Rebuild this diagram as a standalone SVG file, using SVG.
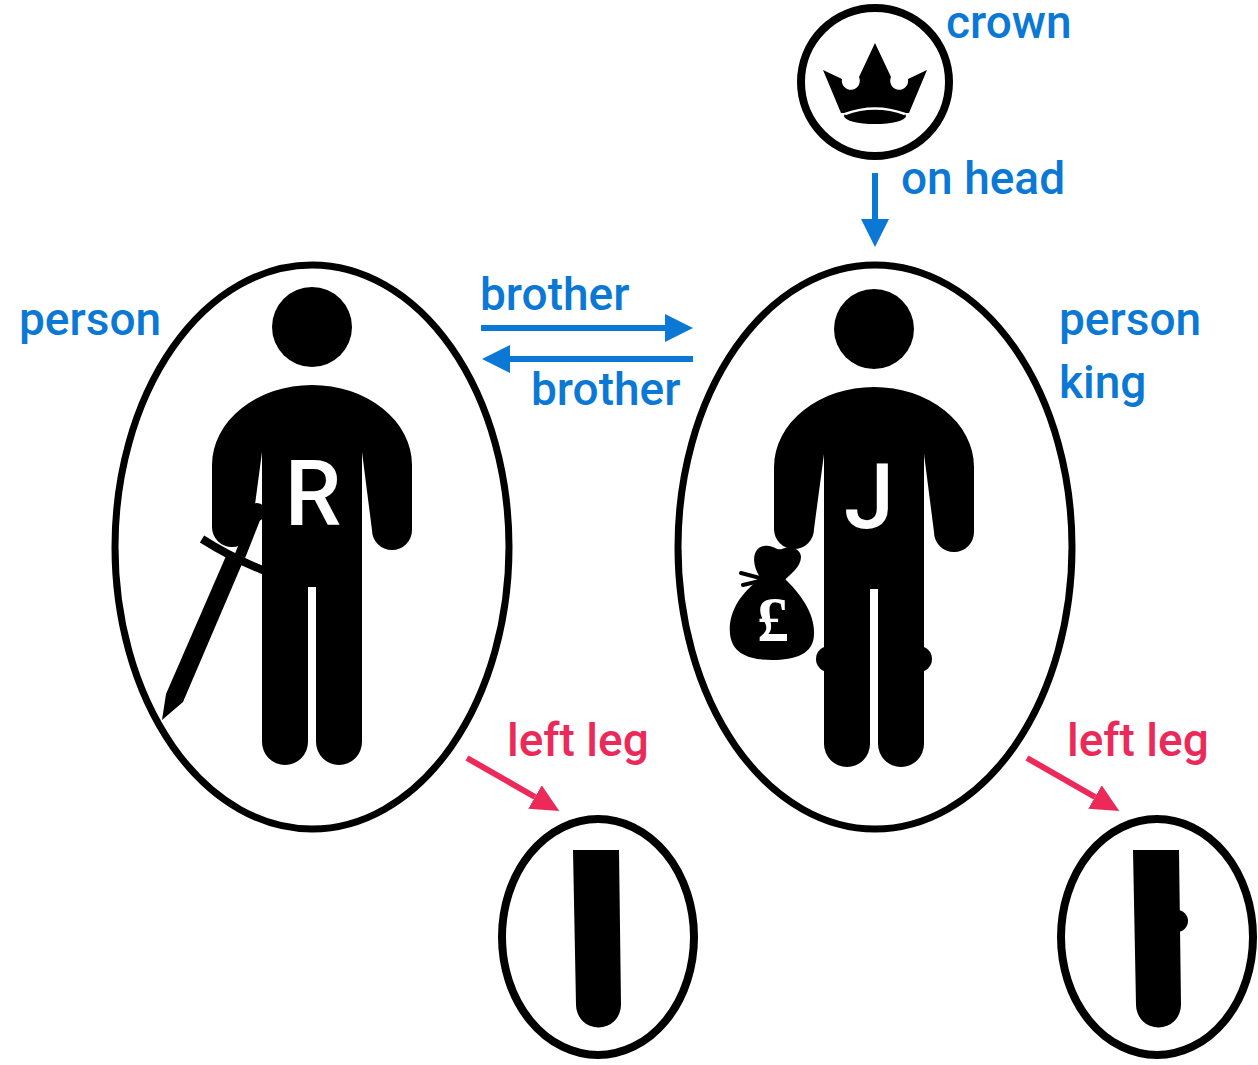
<svg xmlns="http://www.w3.org/2000/svg" width="1258" height="1065" viewBox="0 0 1258 1065">
  <style>
    .frame { fill: none; stroke: #000; stroke-width: 7; }
    .leg-frame { fill: none; stroke: #000; stroke-width: 8; }
    .ink { fill: #000; }
    .lbl { font-family: Roboto, "Liberation Sans", sans-serif; font-weight: 500; font-size: 46px; }
    .blue { fill: #0a78d4; }
    .red { fill: #ec2a5a; }
    .initial { font-family: Roboto, "Liberation Sans", sans-serif; font-weight: 500; font-size: 90px; fill: #fff; text-anchor: middle; }
    .edge-blue { stroke: #0a78d4; stroke-width: 6; fill: none; }
    .edge-red { stroke: #ec2a5a; stroke-width: 6; fill: none; }
  </style>
  <defs>
    <marker id="head-blue" markerUnits="userSpaceOnUse" markerWidth="28" markerHeight="28" refX="0" refY="14" orient="auto">
      <path d="M0,0 L28,14 L0,28 Z" fill="#0a78d4"/>
    </marker>
    <marker id="head-red" markerUnits="userSpaceOnUse" markerWidth="28" markerHeight="27" refX="0" refY="13.5" orient="auto">
      <path d="M0,0 L28,13.5 L0,27 Z" fill="#ec2a5a"/>
    </marker>
    <!-- pictogram of a standing person, centred on x = 0 -->
    <g id="figure">
      <circle cx="0" cy="327" r="40"/>
      <path d="M -50 452 L -60 527 A 20 20 0 0 1 -100 527 L -100 465 A 100 80 0 0 1 100 465 L 100 530 A 20 20 0 0 1 60 530 L 50 452 L 50 742 A 23 23 0 0 1 4 742 L 4 587 L -4 587 L -4 742 A 23 23 0 0 1 -50 742 Z"/>
    </g>
    <path id="leg" d="M 573 850 L 619 850 L 621 1005 A 22.5 22.5 0 0 1 576 1005 Z"/>
  </defs>

  <!-- crown -->
  <g id="node-crown">
    <circle class="frame" cx="875" cy="82" r="74" style="stroke-width:8"/>
    <path class="ink" d="M 823 70 L 842 79 A 9 9 0 1 0 859 77 L 875 43 L 891 77 A 9 9 0 1 0 908 79 L 927 70 L 909 113 L 841 113 Z"/>
    <ellipse class="ink" cx="875" cy="116" rx="31" ry="8"/>
    <path d="M 845 114 Q 875 103 905 114" stroke="#fff" stroke-width="2.5" fill="none"/>
    <text class="lbl blue" x="946" y="38">crown</text>
  </g>

  <!-- Richard: person with sword -->
  <g id="node-richard">
    <ellipse class="frame" cx="312" cy="547" rx="197" ry="282"/>
    <use href="#figure" transform="translate(312,0)"/>
    <text class="initial" x="313" y="525">R</text>
    <!-- sword -->
    <polygon class="ink" points="225.8,556.4 242.2,563.6 183,702 162,720 166,694"/>
    <path d="M 202 539 Q 232 558 265 571" stroke="#000" stroke-width="8" fill="none"/>
    <path d="M 240 556 L 257 513" stroke="#000" stroke-width="11" fill="none"/>
    <circle cx="257" cy="512" r="9"/>
    <text class="lbl blue" x="19" y="335">person</text>
  </g>

  <!-- John: person with money bag -->
  <g id="node-john">
    <ellipse class="frame" cx="875" cy="547" rx="197" ry="282"/>
    <use href="#figure" transform="translate(874,2)"/>
    <circle cx="829" cy="659" r="13"/>
    <circle cx="919" cy="659" r="13"/>
    <text class="initial" x="869" y="528">J</text>
    <!-- money bag -->
    <path class="ink" d="M 761 578 C 739 594 728 614 730 634 C 732 654 750 660 772 660 C 795 660 814 654 814 634 C 815 614 801 594 784 578 Z"/>
    <path class="ink" d="M 763 581 C 751 567 751 548 764 546 C 772 544 777 551 782 549 C 792 544 801 550 801 557 C 801 567 790 574 784 581 Z"/>
    <path d="M 764 579 L 741 573 M 764 580 L 743 585" stroke="#000" stroke-width="4" stroke-linecap="round" fill="none"/>
    <text x="773" y="641" font-family="'Liberation Serif', serif" font-weight="bold" font-size="64" fill="#fff" text-anchor="middle">£</text>
    <text class="lbl blue" x="1059" y="335">person</text>
    <text class="lbl blue" x="1059" y="398">king</text>
  </g>

  <!-- Richard's left leg -->
  <g id="node-leg-richard">
    <ellipse class="leg-frame" cx="598" cy="937" rx="96" ry="118"/>
    <use href="#leg"/>
  </g>

  <!-- John's left leg -->
  <g id="node-leg-john">
    <ellipse class="leg-frame" cx="1157" cy="937" rx="96" ry="118"/>
    <use href="#leg" transform="translate(560,0)"/>
    <circle cx="1177" cy="921" r="11"/>
  </g>

  <!-- relations -->
  <g id="connectors">
    <line class="edge-blue" x1="875" y1="173" x2="875" y2="219" marker-end="url(#head-blue)"/>
    <text class="lbl blue" x="901" y="194">on head</text>
    <line class="edge-blue" x1="481" y1="328" x2="665" y2="328" marker-end="url(#head-blue)"/>
    <text class="lbl blue" x="480" y="310">brother</text>
    <line class="edge-blue" x1="693" y1="359" x2="510" y2="359" marker-end="url(#head-blue)"/>
    <text class="lbl blue" x="531" y="405">brother</text>
    <line class="edge-red" x1="467" y1="758" x2="535" y2="797" marker-end="url(#head-red)"/>
    <text class="lbl red" x="507" y="756">left leg</text>
    <line class="edge-red" x1="1027" y1="758" x2="1095" y2="797" marker-end="url(#head-red)"/>
    <text class="lbl red" x="1067" y="756">left leg</text>
  </g>
</svg>
